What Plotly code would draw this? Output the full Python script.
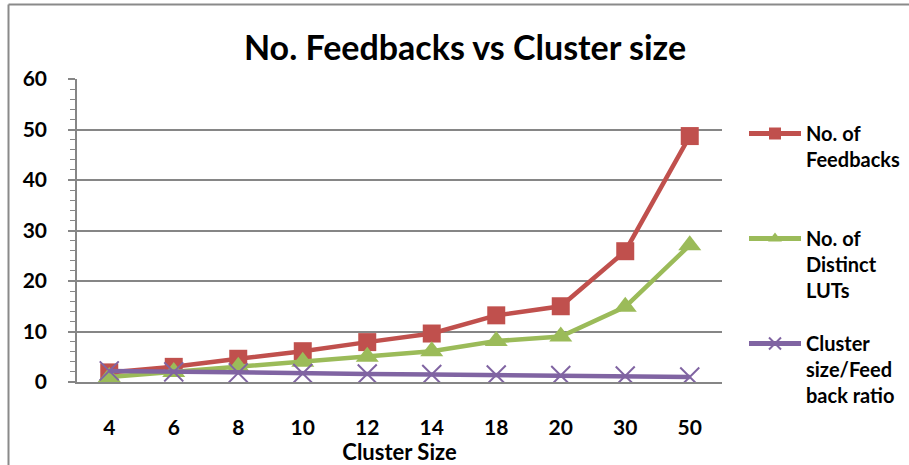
import plotly.graph_objects as go

# Cluster sizes (x categories) and the three measured series
cluster_sizes = ["4", "6", "8", "10", "12", "14", "18", "20", "30", "50"]
feedbacks = [1.9, 3.0, 4.6, 6.1, 7.9, 9.6, 13.2, 15.0, 25.9, 48.7]
distinct_luts = [1.0, 2.0, 3.0, 4.0, 5.0, 6.1, 8.1, 9.0, 14.9, 27.1]
size_feedback_ratio = [2.2, 2.0, 1.8, 1.7, 1.6, 1.5, 1.4, 1.3, 1.2, 1.0]
y_ticks = [0, 10, 20, 30, 40, 50, 60]

FONT = "Lato, 'Open Sans', 'DejaVu Sans', sans-serif"
GRID = "#868686"
W, H = 909, 465
L, R, T, B = 77, 722, 79, 382  # plot area in pixels


def px_x(p):
    return (p - L) / (R - L)


def px_y(p):
    return (B - p) / (B - T)


def bold(size):
    return dict(size=size, family=FONT, color="black", weight="bold")


fig = go.Figure()

fig.add_trace(go.Scatter(
    x=cluster_sizes, y=feedbacks, mode="lines+markers",
    name="No. of<br>Feedbacks<br> ", legendgroup="a",
    line=dict(color="#C0504D", width=4.5),
    marker=dict(symbol="square", size=18, color="#C0504D"),
))
fig.add_trace(go.Scatter(
    x=cluster_sizes, y=distinct_luts, mode="lines+markers",
    name="No. of<br>Distinct<br>LUTs", legendgroup="b",
    line=dict(color="#9BBB59", width=4.5),
    marker=dict(symbol="triangle-up", size=20, color="#9BBB59"),
))
fig.add_trace(go.Scatter(
    x=cluster_sizes, y=size_feedback_ratio, mode="lines+markers",
    name="Cluster<br>size/Feed<br>back ratio", legendgroup="c",
    line=dict(color="#8064A2", width=4.5),
    marker=dict(symbol="x-thin", size=19, color="#8064A2",
                line=dict(color="#8064A2", width=2)),
))

# outer chart frame (left and top edges)
frame = dict(type="line", xref="paper", yref="paper",
             line=dict(color="#8a8a8a", width=2))
fig.add_shape(**frame, x0=px_x(8.5), x1=px_x(8.5), y0=px_y(4.5), y1=px_y(480))
fig.add_shape(**frame, x0=px_x(8.5), x1=px_x(930), y0=px_y(4.5), y1=px_y(4.5))

fig.update_layout(
    width=W, height=H,
    margin=dict(l=L, r=W - R, t=T, b=H - B, pad=0, autoexpand=False),
    paper_bgcolor="white", plot_bgcolor="white",
    font=dict(family=FONT, color="black"),
    title=dict(text="No. Feedbacks vs Cluster size",
               font=bold(34),
               x=px_x(465), xref="paper", xanchor="center",
               y=1 - 48 / H, yref="container", yanchor="middle"),
    showlegend=True,
    legend=dict(
        x=px_x(744), xanchor="left", y=px_y(114), yanchor="top",
        font=bold(20),
        valign="top", traceorder="grouped", tracegroupgap=24,
        itemsizing="constant", itemwidth=52,
        bgcolor="rgba(0,0,0,0)",
    ),
    xaxis=dict(
        type="category", range=[-0.5, 9.5],
        showline=True, linecolor=GRID, linewidth=1.5,
        showgrid=False, ticks="", zeroline=False,
        tickfont=bold(21),
        ticklabelstandoff=26,
        title=dict(text="Cluster Size", font=bold(22), standoff=0),
    ),
    yaxis=dict(
        range=[0, 60], tickvals=y_ticks,
        showline=True, linecolor=GRID, linewidth=1.5,
        showgrid=True, gridcolor=GRID, gridwidth=1.5,
        zeroline=False,
        ticks="outside", ticklen=7, tickcolor=GRID, tickwidth=1.5,
        minor=dict(dtick=2, ticks="outside", ticklen=5,
                   tickcolor=GRID, tickwidth=1, showgrid=False),
        tickfont=bold(21),
        ticklabelstandoff=17,
    ),
)

fig.write_html("out.html")
